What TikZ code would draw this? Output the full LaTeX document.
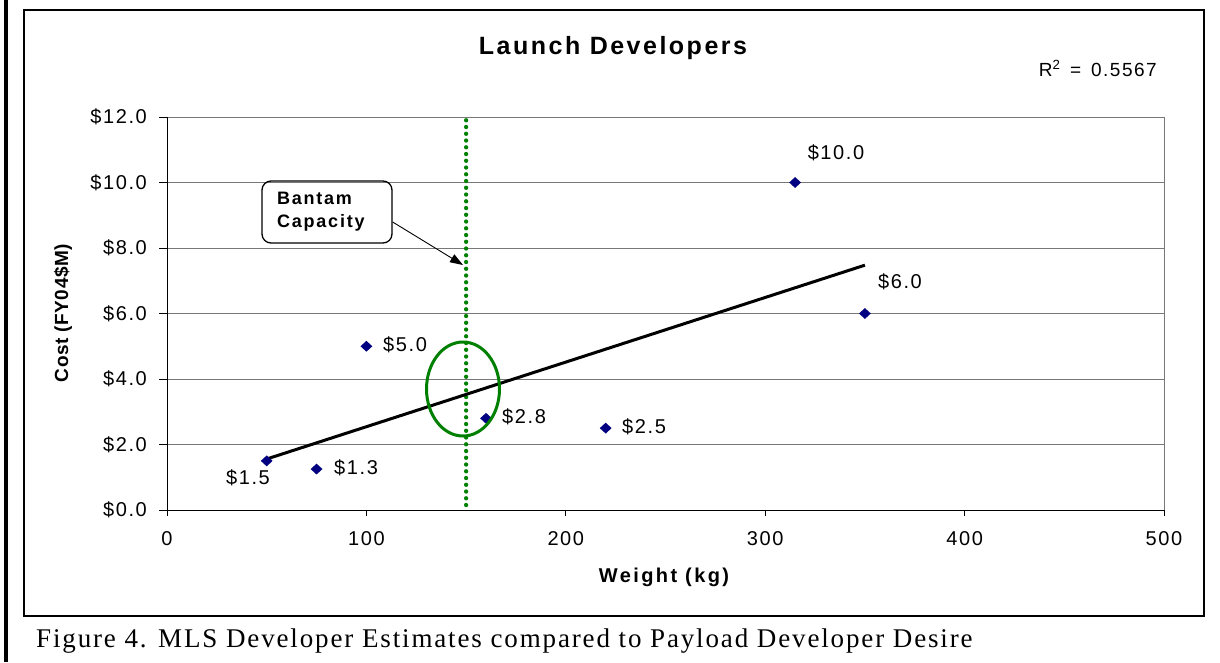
\documentclass[tikz,border=0pt]{standalone}
\usepackage{fontspec}
\setmainfont{Liberation Sans}
\newfontfamily\capfont[LetterSpace=6.9]{Liberation Serif}
\newfontfamily\lblfont[LetterSpace=8]{Liberation Sans}
\newfontfamily\ttlfont[LetterSpace=10]{Liberation Sans}
\newfontfamily\axfont[LetterSpace=12]{Liberation Sans}
\newfontfamily\ayfont[LetterSpace=3]{Liberation Sans}
\usetikzlibrary{arrows.meta,shapes.geometric}
\definecolor{navymk}{RGB}{0,0,128}
\definecolor{xlgreen}{RGB}{0,128,0}
\definecolor{gridgray}{RGB}{120,120,120}
\begin{document}
\begin{tikzpicture}[x=1pt,y=-1pt,
  tick/.style={font=\lblfont\fontsize{20}{22}\selectfont, inner sep=0pt},
  dlabel/.style={font=\lblfont\fontsize{20}{22}\selectfont, inner sep=0pt},
  mk/.style={diamond, fill=navymk, inner sep=0pt, minimum width=12pt, minimum height=11pt},
  gridline/.style={gridgray, line width=1pt},
  axisline/.style={black, line width=1pt},
  trend/.style={black, line width=3pt},
  capline/.style={xlgreen, line width=4.3pt, line cap=round, dash pattern=on 0pt off 6.75pt},
  ring/.style={ellipse, draw=xlgreen, line width=3pt, minimum width=73pt, minimum height=94pt, inner sep=0pt},
  callbox/.style={draw=black, line width=1.3pt, rounded corners=9pt, minimum width=130pt, minimum height=62pt, text width=100pt, align=left, inner xsep=15pt, font=\ttlfont\bfseries\fontsize{18}{23}\selectfont},
  arr/.style={black, line width=0.9pt, -{Triangle[length=13pt,width=9pt]}},
  axtitle/.style={font=\axfont\bfseries\fontsize{20}{22}\selectfont, inner sep=0pt},
  aytitle/.style={font=\ayfont\bfseries\fontsize{19}{22}\selectfont, inner sep=0pt}
]
\useasboundingbox (0,0) rectangle (1220,662);
\fill[white] (0,0) rectangle (1220,662);
\fill[black] (4,0) rectangle (7.5,662);
\draw[line width=1.5pt] (24,10) rectangle (1204,616);

% title and R^2
\node[font=\ttlfont\bfseries\fontsize{25}{28}\selectfont, anchor=base, inner sep=0pt] (title) at (613,54) {Launch Developers};
\node[font=\lblfont\fontsize{19}{22}\selectfont, anchor=base east, inner sep=0pt] (rsq) at (1157,76) {R\textsuperscript{2}\hspace{3pt} = \hspace{3pt}0.5567};

\begin{scope}[shift={(167,510)}, x=1.994pt, y=32.75pt]
  % grid
  \foreach \v in {2,4,...,12} \draw[gridline] (0,\v) -- (500,\v);
  \draw[gridline] (500,0) -- (500,12);
  \draw[axisline] (0,0) -- (0,12);
  \draw[axisline] (0,0) -- (500,0);
  % ticks
  \foreach \v/\t in {0/0.0,2/2.0,4/4.0,6/6.0,8/8.0,10/10.0,12/12.0} {
    \draw[axisline] (-4,\v) -- (0,\v);
    \node[tick, anchor=east] at (-10,\v) {\$\t};
  }
  \foreach \u in {0,100,...,500} {
    \draw[axisline] (\u,0) -- (\u,-0.19);
    \node[tick] at (\u,-0.87) {\u};
  }
  % bantam line
  \coordinate (g1) at (150,11.9);
  \coordinate (g2) at (150,0);
  \draw[capline] (g1) -- (g2);
  % trend line
  \coordinate (t1) at (50,1.557);
  \coordinate (t2) at (350,7.476);
  \draw[trend] (t1) -- (t2);
  % data points
  \node[mk] (p1) at (50,1.5) {};
  \node[mk] (p2) at (75,1.25) {};
  \node[mk] (p3) at (100,5) {};
  \node[mk] (p4) at (160,2.8) {};
  \node[mk] (p5) at (220,2.5) {};
  \node[mk] (p6) at (315,10) {};
  \node[mk] (p7) at (350,6) {};
\end{scope}

% data labels
\node[dlabel] (l1) at (248,478) {\$1.5};
\node[dlabel, anchor=west] (l2) at (334,468) {\$1.3};
\node[dlabel, anchor=west] (l3) at (383,345) {\$5.0};
\node[dlabel, anchor=west] (l4) at (502,417) {\$2.8};
\node[dlabel, anchor=west] (l5) at (622,427) {\$2.5};
\node[dlabel] (l6) at (836,153) {\$10.0};
\node[dlabel] (l7) at (900,282) {\$6.0};

% ring
\node[ring] (ring) at (463,389) {};

% callout
\node[callbox] (bc) at (327,212) {Bantam\\Capacity};
\coordinate (tip) at (463,265);
\draw[arr] ([yshift=-10pt]bc.east) -- (tip);

% axis titles
\node[aytitle, rotate=90] (ytitle) at (63,313) {Cost (FY04\$M)};
\node[axtitle] (xtitle) at (664,577) {Weight (kg)};

% caption
\node[font=\capfont\fontsize{27}{30}\selectfont, anchor=base west, inner sep=0pt] (cap) at (36,647) {Figure 4. MLS Developer Estimates compared to Payload Developer Desire};
\end{tikzpicture}
\end{document}
